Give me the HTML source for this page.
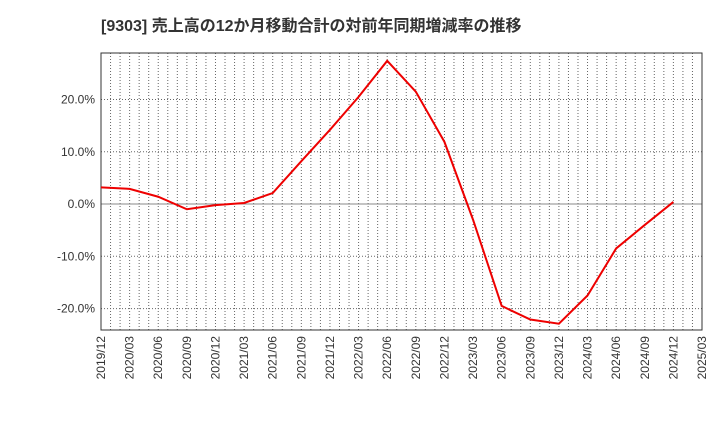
<!DOCTYPE html>
<html><head><meta charset="utf-8"><style>
body{margin:0;background:#fff;width:720px;height:440px;overflow:hidden;font-family:"Liberation Sans","Noto Sans CJK JP",sans-serif}
</style></head><body>
<svg id="c" width="720" height="440" xmlns="http://www.w3.org/2000/svg">
<text x="101" y="31" font-size="16" font-weight="bold" fill="#333" font-family="Liberation Sans, Noto Sans CJK JP, sans-serif">[9303]  売上高の12か月移動合計の対前年同期増減率の推移</text>
<g id="grid"></g><g id="axes"></g><g id="series"></g>
</svg>
<script>
const categories=["2019/12","2020/03","2020/06","2020/09","2020/12","2021/03","2021/06","2021/09","2021/12","2022/03","2022/06","2022/09","2022/12","2023/03","2023/06","2023/09","2023/12","2024/03","2024/06","2024/09","2024/12"];
const values=[3.2,2.9,1.4,-1.0,-0.2,0.2,2.1,8.2,14.2,20.5,27.4,21.5,11.9,-3.0,-19.5,-22.1,-22.9,-17.5,-8.5,-4.0,0.4];
const xTickLabels=["2019/12","2020/03","2020/06","2020/09","2020/12","2021/03","2021/06","2021/09","2021/12","2022/03","2022/06","2022/09","2022/12","2023/03","2023/06","2023/09","2023/12","2024/03","2024/06","2024/09","2024/12","2025/03"];
const yTicks=[-20,-10,0,10,20];
const NS="http://www.w3.org/2000/svg";
const L=101,R=702,T=53,B=330,yMax=28.9,yMin=-24.1;
const x=i=>L+(R-L)*i/21;
const y=v=>T+(yMax-v)/(yMax-yMin)*(B-T);
function mk(tag,attrs,parent){const e=document.createElementNS(NS,tag);for(const k in attrs)e.setAttribute(k,attrs[k]);parent.appendChild(e);return e;}
const grid=document.getElementById('grid'),axes=document.getElementById('axes'),series=document.getElementById('series');
for(let m=1;m<63;m++){const xx=L+(R-L)*m/63;const g=mk('line',{x1:xx,x2:xx,y1:T,y2:B,stroke:'#666','stroke-width':1,'stroke-dasharray':'1,2'},grid);
}
yTicks.forEach(v=>{const g=mk('line',{x1:L,x2:R,y1:y(v),y2:y(v),stroke:v===0?'#888':'#666','stroke-width':1,'stroke-dasharray':v===0?'':'1,2'},grid);

const t=mk('text',{x:L-6,y:y(v)+4,'text-anchor':'end','font-size':12,fill:'#333'},axes);t.textContent=v.toFixed(1)+'%';
});
const fr=mk('rect',{x:L,y:T,width:R-L,height:B-T,fill:'none',stroke:'#333','stroke-width':1},axes);

xTickLabels.forEach((s,i)=>{const xx=x(i);const t=mk('text',{x:0,y:0,'text-anchor':'end','font-size':12,fill:'#333',transform:`translate(${xx+4},${B+6}) rotate(-90)`},axes);t.textContent=s;
});
const p=mk('polyline',{points:values.map((v,i)=>x(i)+','+y(v)).join(' '),fill:'none',stroke:'#e00','stroke-width':2},series);

</script>
</body></html>
